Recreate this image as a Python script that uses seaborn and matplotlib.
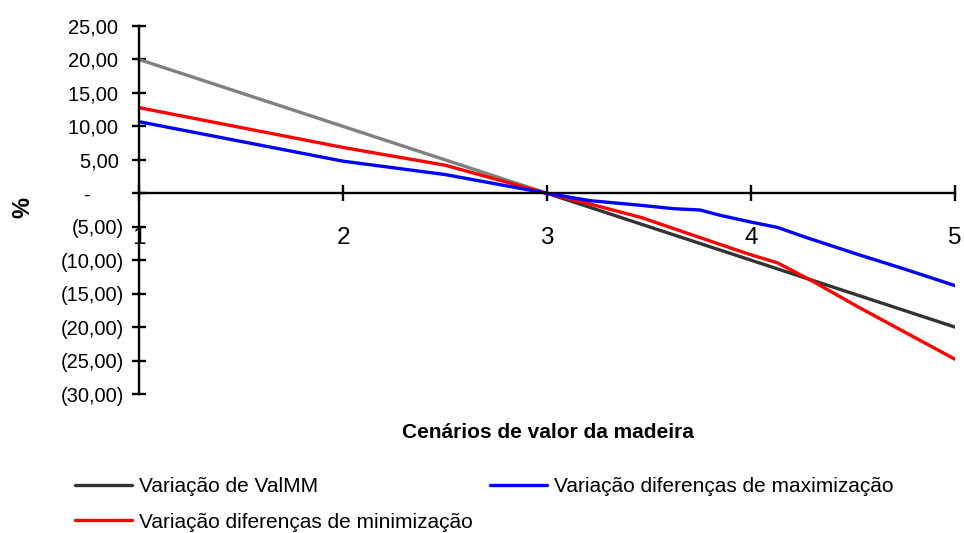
import numpy as np
import pandas as pd
import matplotlib
matplotlib.use("Agg")
import matplotlib.pyplot as plt
import seaborn as sns
from matplotlib.ticker import FuncFormatter

# values
valmm_x = [1, 2, 3, 4, 5]
valmm_y = [20.0, 10.0, 0.0, -10.0, -20.0]

max_x = [1, 2, 2.5, 3, 3.21, 3.46, 3.62, 3.75, 3.85, 4.0, 4.13, 4.27, 4.52, 4.76, 5]
max_y = [10.7, 4.8, 2.8, 0.0, -1.1, -1.8, -2.3, -2.5, -3.3, -4.3, -5.1, -6.6, -9.1, -11.4, -13.8]

min_x = [1, 2, 2.5, 3, 3.21, 3.46, 3.70, 3.99, 4.13, 4.30, 4.52, 5]
min_y = [12.8, 6.85, 4.2, 0.0, -1.6, -3.6, -6.1, -9.1, -10.4, -13.1, -16.9, -24.8]

x_ticks = [1, 2, 3, 4, 5]
y_ticks = [25, 20, 15, 10, 5, 0, -5, -10, -15, -20, -25, -30]

labels = [
    "Variação de ValMM",
    "Variação diferenças de maximização",
    "Variação diferenças de minimização",
]


def fmt_pt(v, pos):
    if abs(v) < 1e-9:
        return "-      "
    s = f"{abs(v):.2f}".replace(".", ",")
    return f"({s})" if v < 0 else s + " "


sns.set_style("white")
plt.rcParams["font.family"] = ["Liberation Sans", "DejaVu Sans"]
plt.rcParams["text.color"] = "black"
plt.rcParams["xtick.color"] = "black"
plt.rcParams["ytick.color"] = "black"

fig = plt.figure(figsize=(9.64, 5.33), dpi=100)
ax = fig.add_axes([139 / 964, 1 - 394 / 533, (955 - 139) / 964, (394 - 26) / 533])

lw = 2.4
# ValMM line: lighter on the left half, dark on the right half
sns.lineplot(x=valmm_x[:3], y=valmm_y[:3], color="#808080", lw=lw, ax=ax, sort=False)
sns.lineplot(x=valmm_x[2:], y=valmm_y[2:], color="#333333", lw=lw, ax=ax, sort=False,
             label=labels[0])
sns.lineplot(x=min_x, y=min_y, color="#FF0000", lw=lw, ax=ax, sort=False, label=labels[2])
sns.lineplot(x=max_x, y=max_y, color="#0000FF", lw=lw, ax=ax, sort=False, label=labels[1])

ax.set_xlim(1, 5)
ax.set_ylim(-30, 25)
ax.set_xticks(x_ticks)
ax.set_yticks(y_ticks)
ax.yaxis.set_major_formatter(FuncFormatter(fmt_pt))

for side in ["top", "right"]:
    ax.spines[side].set_visible(False)
ax.spines["bottom"].set_position(("data", 0))
for side in ["left", "bottom"]:
    ax.spines[side].set_color("black")
    ax.spines[side].set_linewidth(1.7)

ax.tick_params(axis="x", direction="inout", length=11, width=1.7, color="black",
               labelsize=17.5, labelcolor="black", pad=19, bottom=True)
ax.tick_params(axis="y", direction="inout", length=9.5, width=1.7, color="black",
               labelsize=14.5, labelcolor="black", pad=6, left=True)
ax.set_xlabel("")
ax.set_ylabel("")

fig.text(23 / 964, 1 - 207 / 533, "%", ha="center", va="center", rotation=90,
         fontsize=17, fontweight="bold")
fig.text(548 / 964, 1 - 432 / 533, "Cenários de valor da madeira", ha="center",
         va="center", fontsize=15, fontweight="bold")

handles, labs = ax.get_legend_handles_labels()
order = [labs.index(labels[0]), labs.index(labels[2]), labs.index(labels[1])]
ax.get_legend().remove()
fig.legend([handles[i] for i in order], [labs[i] for i in order],
           loc="upper left", bbox_to_anchor=(75 / 964, 1 - 477 / 533), ncol=2,
           frameon=False, fontsize=15, handlelength=2.75, handletextpad=0.3,
           columnspacing=0.85, labelspacing=0.8, borderpad=0, borderaxespad=0)

fig.savefig("out.png", dpi=100)
